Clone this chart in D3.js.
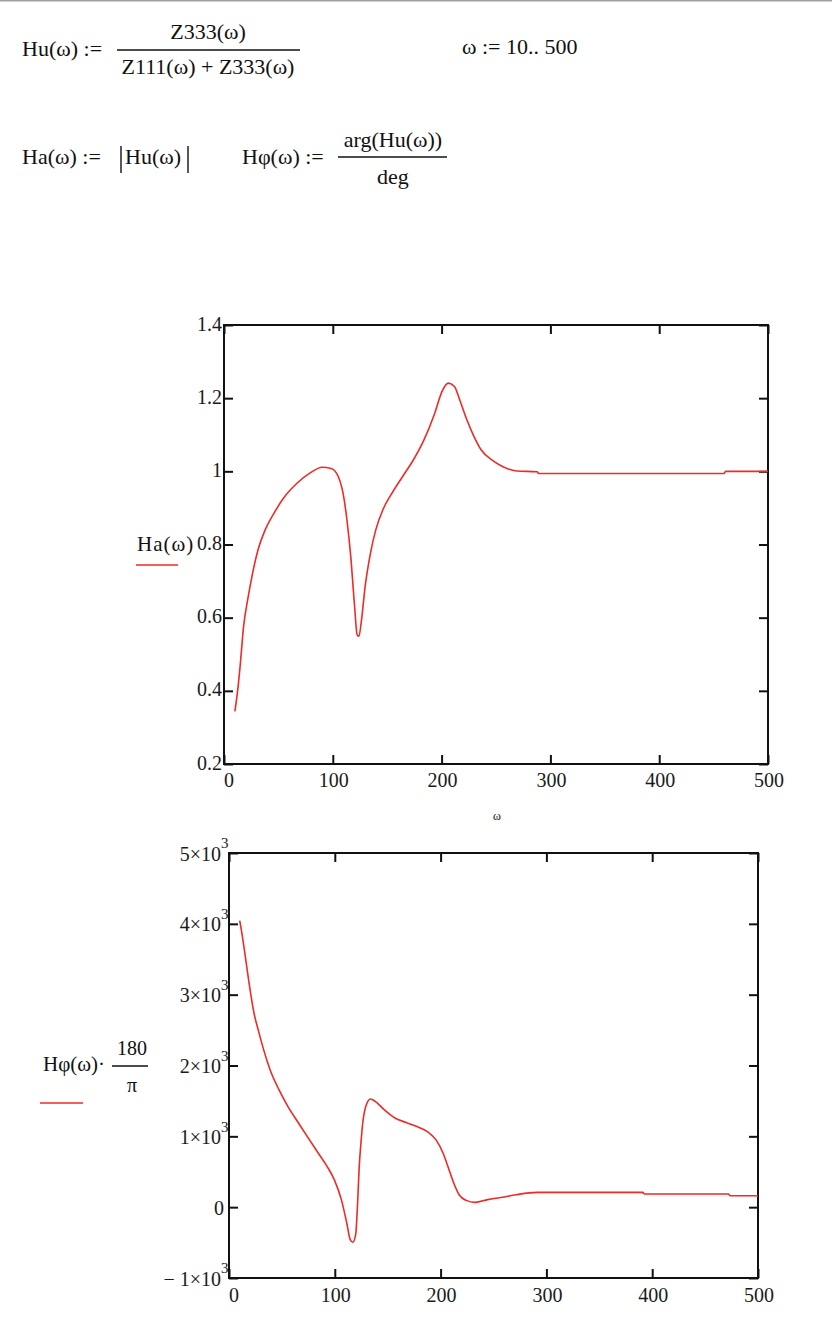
<!DOCTYPE html>
<html>
<head>
<meta charset="utf-8">
<script src="https://cdn.jsdelivr.net/npm/d3@7"></script>
<style>
  html, body { margin: 0; padding: 0; background: #fff; }
  svg text { font-family: "Liberation Serif", "Times New Roman", serif; fill: #1a1a1a; }
</style>
</head>
<body>
<svg id="chart" width="832" height="1324"></svg>
<script>
// ---- data ----
const omegaA = [10, 12.5, 14.8, 18, 22.3, 26.3, 31.2, 37.8, 46, 55.8, 67.3, 78.8, 90.3, 98.5, 105, 110, 113, 116.5, 119.8, 122.4, 124, 126.4, 129.7, 134.6, 139.5, 146, 154.3, 164.2, 174, 183.8, 193.7, 200.3, 206.2, 211.8, 216.7, 223.2, 229.8, 236.3, 246.2, 256, 269.2, 288, 289, 459.6, 461, 500];
const haValues = [0.344, 0.4, 0.467, 0.576, 0.658, 0.722, 0.785, 0.84, 0.886, 0.931, 0.968, 0.995, 1.011, 1.008, 0.986, 0.931, 0.867, 0.767, 0.64, 0.553, 0.549, 0.594, 0.685, 0.776, 0.84, 0.895, 0.94, 0.986, 1.031, 1.086, 1.159, 1.218, 1.241, 1.232, 1.195, 1.141, 1.095, 1.059, 1.031, 1.013, 1.001, 0.999, 0.994, 0.994, 1.0, 1.0];

const omegaP = [10.1, 11.1, 14.5, 18.5, 23.6, 28, 32.7, 38.8, 47.2, 55.6, 65.7, 75.9, 84.3, 92.7, 99.5, 106.2, 111.3, 114.6, 117, 119.7, 121.4, 123.1, 124.7, 126.4, 129.8, 133.8, 138.2, 146.6, 156.8, 166.9, 177, 187.1, 195.5, 202.3, 207.4, 212.4, 217.5, 224.2, 232.6, 244.4, 257.9, 271.4, 291.6, 391, 392.8, 472, 473.7, 500];
const phiValues = [4045, 3965, 3635, 3212, 2741, 2482, 2224, 1941, 1659, 1424, 1188, 953, 765, 576, 388, 106, -224, -459, -496, -388, 12, 576, 906, 1188, 1447, 1527, 1494, 1376, 1259, 1198, 1141, 1071, 953, 765, 553, 341, 176, 96, 68, 106, 139, 176, 209, 209, 186, 186, 162, 162];

const xTicks = [0, 100, 200, 300, 400, 500];
const xTickLabels = ["0", "100", "200", "300", "400", "500"];
const yTicksA = [0.2, 0.4, 0.6, 0.8, 1.0, 1.2, 1.4];
const yTickLabelsA = ["0.2", "0.4", "0.6", "0.8", "1", "1.2", "1.4"];
const yTicksP = [-1000, 0, 1000, 2000, 3000, 4000, 5000];
const yTickMantissaP = ["\u2212 1", "0", "1", "2", "3", "4", "5"];

// ---- drawing ----
const svg = d3.select("#chart");
const RED = "#f02a24";

// thin gray line at top of the page
svg.append("line").attr("x1", 0).attr("x2", 832).attr("y1", 0.75).attr("y2", 0.75)
  .attr("stroke", "#a0a0a0").attr("stroke-width", 1.5);

// ---- formulas ----
const F = 22;
function txt(x, y, s, opts = {}) {
  const t = svg.append("text").attr("x", x).attr("y", y).attr("font-size", opts.size || F)
    .attr("text-anchor", opts.anchor || "start").attr("dominant-baseline", "middle")
    .style("fill", opts.fill || "#111");
  if (opts.ls) t.attr("letter-spacing", opts.ls);
  t.text(s);
  return t;
}
function hbar(x1, x2, y) {
  svg.append("line").attr("x1", x1).attr("x2", x2).attr("y1", y).attr("y2", y)
    .attr("stroke", "#111").attr("stroke-width", 1.3);
}
function vbar(x, y1, y2) {
  svg.append("line").attr("x1", x).attr("x2", x).attr("y1", y1).attr("y2", y2)
    .attr("stroke", "#111").attr("stroke-width", 1.4);
}
txt(22, 51, "Hu(\u03c9) :=");
txt(208, 34, "Z333(\u03c9)", {anchor: "middle"});
hbar(117, 300, 50);
txt(208, 69, "Z111(\u03c9) + Z333(\u03c9)", {anchor: "middle"});
txt(462, 49, "\u03c9 := 10.. 500");

txt(22, 159, "Ha(\u03c9) :=");
vbar(121, 146, 173);
txt(125, 159, "Hu(\u03c9)");
vbar(188, 146, 173);
txt(242, 159, "H\u03c6(\u03c9) :=");
txt(393, 142, "arg(Hu(\u03c9))", {anchor: "middle"});
hbar(338, 447, 157);
txt(393, 179, "deg", {anchor: "middle"});

// ---- generic chart function ----
function plot(cfg) {
  const x = d3.scaleLinear().domain([0, 500]).range([cfg.x0, cfg.x1]);
  const y = d3.scaleLinear().domain(cfg.yDomain).range([cfg.y1, cfg.y0]);
  const g = svg.append("g");
  const T = 9;
  const axStyle = sel => { sel.select(".domain").remove(); sel.selectAll("line").attr("stroke", "#111").attr("stroke-width", 2); sel.selectAll("text").remove(); };
  g.append("g").attr("transform", `translate(${cfg.x0},0)`)
    .call(d3.axisLeft(y).tickValues(cfg.yTicks).tickSize(-T)).call(axStyle);
  g.append("g").attr("transform", `translate(${cfg.x1},0)`)
    .call(d3.axisRight(y).tickValues(cfg.yTicks).tickSize(-T)).call(axStyle);
  g.append("g").attr("transform", `translate(0,${cfg.y0})`)
    .call(d3.axisTop(x).tickValues(xTicks).tickSize(-T)).call(axStyle);
  g.append("g").attr("transform", `translate(0,${cfg.y1})`)
    .call(d3.axisBottom(x).tickValues(xTicks).tickSize(-T)).call(axStyle);
  g.append("rect").attr("x", cfg.x0).attr("y", cfg.y0)
    .attr("width", cfg.x1 - cfg.x0).attr("height", cfg.y1 - cfg.y0)
    .attr("fill", "none").attr("stroke", "#111").attr("stroke-width", 2);

  // x labels
  g.selectAll(".xl").data(xTicks).enter().append("text")
    .attr("x", (d, i) => x(d) + (i === 0 ? 5 : 1))
    .attr("y", cfg.y1 + cfg.xLabelDy)
    .attr("text-anchor", "middle").attr("dominant-baseline", "middle")
    .attr("font-size", 20)
    .text((d, i) => xTickLabels[i]);

  // curve
  const line = d3.line().x(d => x(d[0])).y(d => y(d[1])).curve(d3.curveMonotoneX);
  g.append("path").datum(d3.zip(cfg.xs, cfg.ys)).attr("d", line)
    .attr("fill", "none").attr("stroke", RED).attr("stroke-width", 1.6);
  return {x, y, g};
}

// ---- top chart ----
const A = plot({x0: 224, x1: 768, y0: 325, y1: 764, yDomain: [0.2, 1.4], yTicks: yTicksA,
  xLabelDy: 18, xs: omegaA, ys: haValues});
A.g.selectAll(".yl").data(yTicksA).enter().append("text")
  .attr("x", 222).attr("y", d => A.y(d) + 1)
  .attr("text-anchor", "end").attr("dominant-baseline", "middle").attr("font-size", 20)
  .text((d, i) => yTickLabelsA[i]);
svg.append("text").attr("x", 497).attr("y", 817).attr("font-size", 12)
  .attr("text-anchor", "middle").attr("dominant-baseline", "middle").style("fill", "#111").text("\u03c9");
txt(137, 546, "Ha(\u03c9)", {size: 21, ls: 1});
svg.append("line").attr("x1", 136).attr("x2", 178).attr("y1", 565).attr("y2", 565)
  .attr("stroke", RED).attr("stroke-width", 1.5);

// ---- bottom chart ----
const P = plot({x0: 229, x1: 758, y0: 853, y1: 1278, yDomain: [-1000, 5000], yTicks: yTicksP,
  xLabelDy: 19, xs: omegaP, ys: phiValues});
yTicksP.forEach((d, i) => {
  const yy = P.y(d) + 3;
  const t = P.g.append("text").attr("x", d === 0 ? 224 : 221).attr("y", yy)
    .attr("text-anchor", "end").attr("dominant-baseline", "middle").attr("font-size", 20);
  if (d === 0) { t.text("0"); return; }
  t.text(yTickMantissaP[i] + "\u00d710");
  P.g.append("text").attr("x", 221).attr("y", yy - 11).attr("font-size", 15)
    .attr("dominant-baseline", "middle").text("3");
});
txt(43, 1066, "H\u03c6(\u03c9)\u00b7", {size: 21});
txt(132, 1050, "180", {size: 20, anchor: "middle"});
hbar(112, 148, 1066);
txt(132, 1087, "\u03c0", {size: 20, anchor: "middle"});
svg.append("line").attr("x1", 40).attr("x2", 83).attr("y1", 1103).attr("y2", 1103)
  .attr("stroke", RED).attr("stroke-width", 1.5);
</script>
</body>
</html>
